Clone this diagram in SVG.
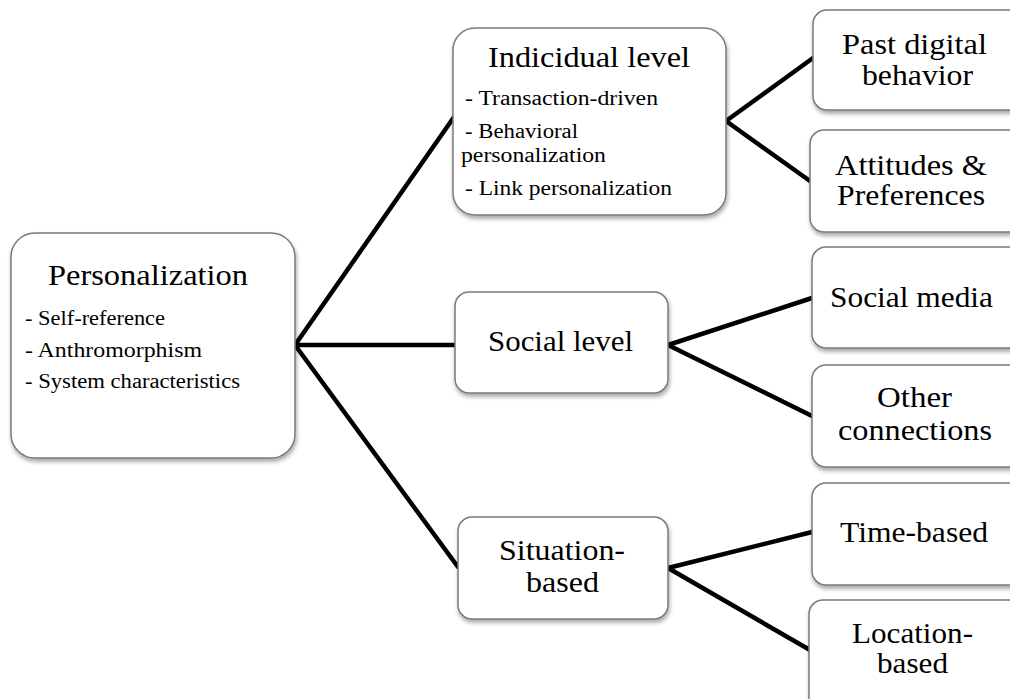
<svg xmlns="http://www.w3.org/2000/svg" width="1010" height="699" viewBox="0 0 1010 699">
<style>
.box{fill:#fff;stroke:#7a7a7a;stroke-width:1.5;filter:url(#sh)}
.t{font-family:"Liberation Serif","Times New Roman",serif;font-size:29px;fill:#000}
.b{font-family:"Liberation Serif","Times New Roman",serif;font-size:20px;fill:#000}
.c{stroke:#000;stroke-width:4.5;stroke-linecap:round;fill:none}
</style>
<defs>
<filter id="sh" x="-10%" y="-10%" width="120%" height="130%">
<feDropShadow dx="1" dy="3" stdDeviation="2" flood-color="#000" flood-opacity="0.35"/>
</filter>
</defs>
<rect width="1010" height="699" fill="#fff"/>
<g id="connectors">
<line class="c" x1="295" y1="345" x2="454" y2="117"/>
<line class="c" x1="295" y1="345" x2="455" y2="345"/>
<line class="c" x1="295" y1="345" x2="458" y2="567"/>
<line class="c" x1="726" y1="121" x2="813" y2="58"/>
<line class="c" x1="726" y1="121" x2="810" y2="181"/>
<line class="c" x1="668" y1="345" x2="812" y2="298"/>
<line class="c" x1="668" y1="345" x2="812" y2="416"/>
<line class="c" x1="668" y1="568" x2="812" y2="532"/>
<line class="c" x1="668" y1="568" x2="810" y2="650"/>
</g>
<g id="personalization">
<rect class="box" x="11" y="233" width="284" height="225" rx="24"/>
<text class="t" x="48" y="285" textLength="200" lengthAdjust="spacingAndGlyphs">Personalization</text>
<text class="b" x="25" y="325" textLength="140" lengthAdjust="spacingAndGlyphs">- Self-reference</text>
<text class="b" x="25" y="357" textLength="177" lengthAdjust="spacingAndGlyphs">- Anthromorphism</text>
<text class="b" x="25" y="388" textLength="215" lengthAdjust="spacingAndGlyphs">- System characteristics</text>
</g>
<g id="individual">
<rect class="box" x="453" y="28" width="273" height="187" rx="22"/>
<text class="t" x="488" y="67" textLength="202" lengthAdjust="spacingAndGlyphs">Indicidual level</text>
<text class="b" x="465" y="105" textLength="193" lengthAdjust="spacingAndGlyphs">- Transaction-driven</text>
<text class="b" x="465" y="138" textLength="113" lengthAdjust="spacingAndGlyphs">- Behavioral</text>
<text class="b" x="461" y="162" textLength="145" lengthAdjust="spacingAndGlyphs">personalization</text>
<text class="b" x="465" y="195" textLength="207" lengthAdjust="spacingAndGlyphs">- Link personalization</text>
</g>
<g id="past">
<rect class="box" x="813" y="10" width="210" height="100" rx="14"/>
<text class="t" x="842" y="54" textLength="145" lengthAdjust="spacingAndGlyphs">Past digital</text>
<text class="t" x="862" y="85" textLength="111" lengthAdjust="spacingAndGlyphs">behavior</text>
</g>
<g id="attitudes">
<rect class="box" x="810" y="130" width="213" height="102" rx="14"/>
<text class="t" x="835" y="175" textLength="152" lengthAdjust="spacingAndGlyphs">Attitudes &amp;</text>
<text class="t" x="837" y="205" textLength="148" lengthAdjust="spacingAndGlyphs">Preferences</text>
</g>
<g id="social">
<rect class="box" x="455" y="292" width="213" height="101" rx="14"/>
<text class="t" x="488" y="351" textLength="145" lengthAdjust="spacingAndGlyphs">Social level</text>
</g>
<g id="socialmedia">
<rect class="box" x="812" y="247" width="211" height="101" rx="14"/>
<text class="t" x="830" y="307" textLength="163" lengthAdjust="spacingAndGlyphs">Social media</text>
</g>
<g id="other">
<rect class="box" x="812" y="365" width="211" height="102" rx="14"/>
<text class="t" x="877" y="407" textLength="75" lengthAdjust="spacingAndGlyphs">Other</text>
<text class="t" x="838" y="440" textLength="154" lengthAdjust="spacingAndGlyphs">connections</text>
</g>
<g id="situation">
<rect class="box" x="458" y="517" width="210" height="102" rx="14"/>
<text class="t" x="499" y="560" textLength="126" lengthAdjust="spacingAndGlyphs">Situation-</text>
<text class="t" x="526" y="592" textLength="73" lengthAdjust="spacingAndGlyphs">based</text>
</g>
<g id="time">
<rect class="box" x="812" y="483" width="211" height="102" rx="14"/>
<text class="t" x="840" y="542" textLength="148" lengthAdjust="spacingAndGlyphs">Time-based</text>
</g>
<g id="location">
<rect class="box" x="809" y="600" width="214" height="120" rx="14"/>
<text class="t" x="852" y="643" textLength="121" lengthAdjust="spacingAndGlyphs">Location-</text>
<text class="t" x="877" y="673" textLength="71" lengthAdjust="spacingAndGlyphs">based</text>
</g>
</svg>
